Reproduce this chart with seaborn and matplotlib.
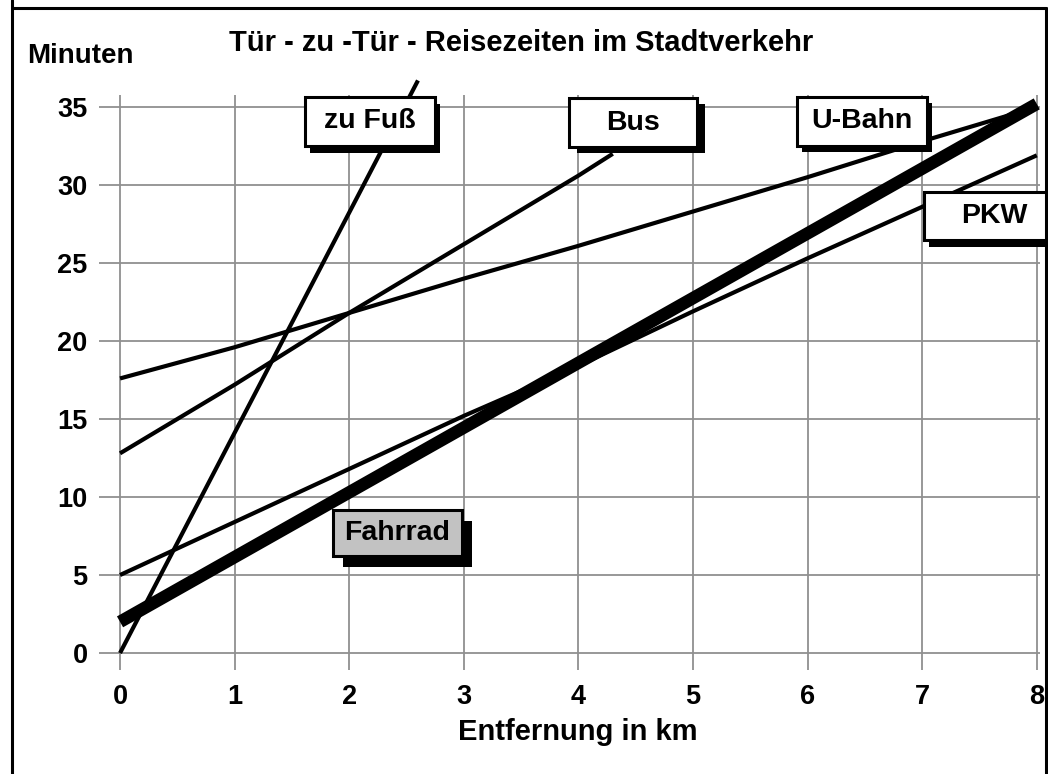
import numpy as np
import pandas as pd
import seaborn as sns
import matplotlib
matplotlib.use("Agg")
import matplotlib.pyplot as plt
from matplotlib.patches import Rectangle
from matplotlib.lines import Line2D

# ---------------- data ----------------
fuss_km = [0.0, 2.6]
fuss_min = [0.0, 36.7]

bus_km = [0, 1, 2, 3, 4, 4.3]
bus_min = [12.8, 17.2, 21.8, 26.2, 30.6, 32.0]

ubahn_km = [0, 1, 2, 3, 4, 5, 6, 7, 8]
ubahn_min = [17.6, 19.6, 21.8, 24.0, 26.1, 28.3, 30.5, 32.8, 35.0]

pkw_km = [0, 1, 2, 3, 4, 5, 6, 7, 8]
pkw_min = [5.0, 8.4, 11.8, 15.2, 18.4, 21.9, 25.3, 28.6, 31.9]

fahrrad_km = [0, 8]
fahrrad_min = [2.0, 35.2]

x_ticks = [0, 1, 2, 3, 4, 5, 6, 7, 8]
y_ticks = [0, 5, 10, 15, 20, 25, 30, 35]

title = "Tür - zu -Tür - Reisezeiten im Stadtverkehr"
ylabel = "Minuten"
xlabel = "Entfernung in km"

# ---------------- figure ----------------
sns.set_theme(style="white")
plt.rcParams["font.family"] = ["Liberation Sans", "DejaVu Sans"]
plt.rcParams["font.weight"] = "bold"
plt.rcParams["text.color"] = "black"
plt.rcParams["xtick.color"] = "black"
plt.rcParams["ytick.color"] = "black"
plt.rcParams["xtick.labelcolor"] = "black"
plt.rcParams["ytick.labelcolor"] = "black"

W, H = 1048, 774
fig = plt.figure(figsize=(W / 100, H / 100), dpi=100)
fig.patch.set_facecolor("white")

ax_l, ax_r, ax_t, ax_b = 99.4, 1040.2, 94.5, 670.2
ax = fig.add_axes([ax_l / W, 1 - ax_b / H, (ax_r - ax_l) / W, (ax_b - ax_t) / H])
ax.set_xlim(-0.18, 8.03)
ax.set_ylim(-1.1, 35.8)
ax.set_facecolor("white")
for s in ax.spines.values():
    s.set_visible(False)

ax.set_xticks(x_ticks)
ax.set_yticks(y_ticks)
ax.set_xticklabels([str(v) for v in x_ticks], fontsize=19.5, fontweight="bold", color="black")
ax.set_yticklabels([str(v) for v in y_ticks], fontsize=19.5, fontweight="bold", color="black")
ax.tick_params(axis="x", length=0, pad=10)
ax.tick_params(axis="y", length=0, pad=8.5)
ax.grid(True, color="#909090", lw=1.3)
ax.set_axisbelow(True)

thin = 3.0
for xs, ys in [(fuss_km, fuss_min), (bus_km, bus_min), (ubahn_km, ubahn_min), (pkw_km, pkw_min)]:
    sns.lineplot(x=xs, y=ys, ax=ax, color="black", lw=thin, sort=False,
                 clip_on=False, solid_capstyle="butt")
sns.lineplot(x=fahrrad_km, y=fahrrad_min, ax=ax, color="black", lw=9, sort=False,
             clip_on=False, solid_capstyle="butt")
ax.set_xlabel("")
ax.set_ylabel("")

# ---------------- texts ----------------
fig.text(521 / W, 1 - 43 / H, title, ha="center", va="center", fontsize=21, fontweight="bold")
fig.text(27 / W, 1 - 56 / H, ylabel, ha="left", va="center", fontsize=20, fontweight="bold")
fig.text(578 / W, 1 - 740 / H, xlabel, ha="center", va="baseline", fontsize=21, fontweight="bold")


def label_box(left, top, w, h, text, fc="white", dx=6, dy=7):
    sh = Rectangle(((left + dx) / W, 1 - (top + h + dy) / H), w / W, h / H,
                   transform=fig.transFigure, fc="black", ec="black", lw=0, zorder=5)
    fig.add_artist(sh)
    bx = Rectangle((left / W, 1 - (top + h) / H), w / W, h / H,
                   transform=fig.transFigure, fc=fc, ec="black", lw=2.2, zorder=6)
    fig.add_artist(bx)
    fig.text((left + w / 2) / W, 1 - (top + h / 2) / H, text, ha="center", va="center",
             fontsize=20.5, fontweight="bold", zorder=7)


label_box(305, 97, 130, 49, "zu Fuß", dx=5, dy=7)
label_box(569, 98, 128, 49, "Bus", dx=8, dy=6)
label_box(797, 97, 130, 49, "U-Bahn", dx=5, dy=6)
label_box(924, 192, 140, 48, "PKW", dx=5, dy=7)
label_box(333, 510, 129, 46, "Fahrrad", fc="#c2c2c2", dx=10, dy=11)

# ---------------- frame ----------------
for xs, ys in [([12, 12], [0, 8]), ([12, 1046], [8, 8]), ([1046, 1046], [8, H])]:
    fig.add_artist(Line2D([x / W for x in xs], [1 - y / H for y in ys],
                          transform=fig.transFigure, color="black", lw=2.2, zorder=8))
fig.add_artist(Line2D([12 / W, 12 / W], [0, 1 - 8 / H], transform=fig.transFigure,
                      color="black", lw=2.2, zorder=8))

fig.savefig("out.png", dpi=100)
